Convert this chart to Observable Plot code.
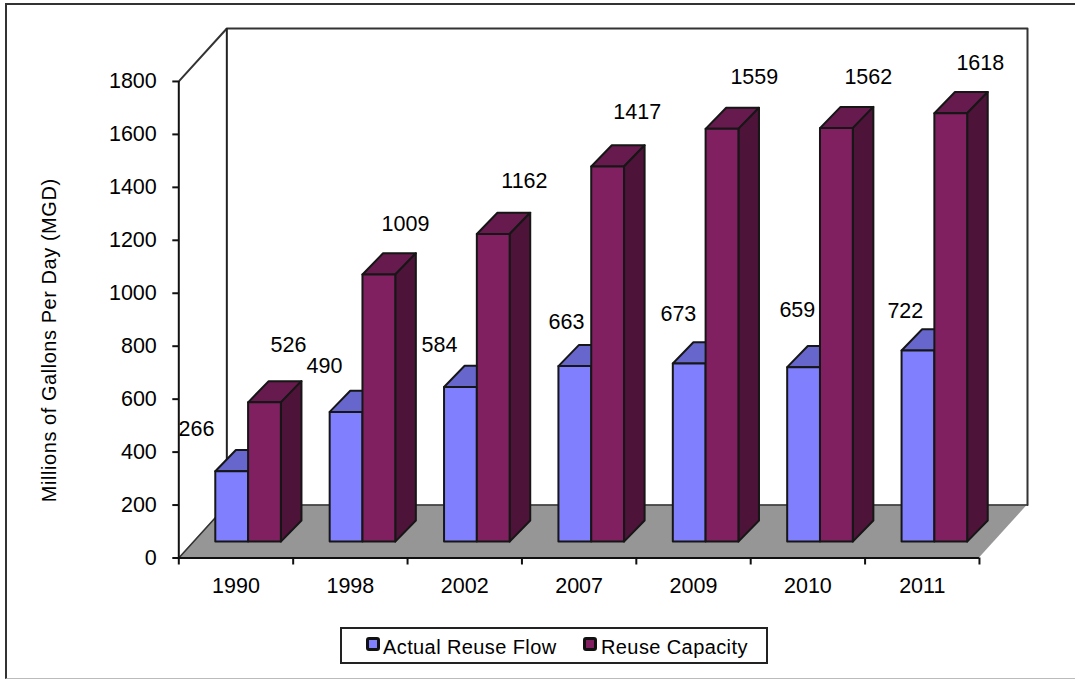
<!DOCTYPE html>
<html>
<head>
<meta charset="utf-8">
<script src="https://cdn.jsdelivr.net/npm/d3@7"></script>
<script src="https://cdn.jsdelivr.net/npm/@observablehq/plot@0.6"></script>
<style>
  html, body { margin: 0; padding: 0; background: #fff; }
  body { font-family: "Liberation Sans", Arial, sans-serif; color: #000; overflow: hidden; }
  #page { position: relative; width: 1075px; height: 679px; overflow: hidden; }
  #edge { position: absolute; left: 5px; top: 3px; width: 1090px; height: 673px;
          border: 2px solid #333; border-bottom: 1px solid #bbb; }
  #chart { position: absolute; left: 0; top: 0; }
  .spaced text { letter-spacing: 0.55px; }
  #legend { position: absolute; left: 340px; top: 627px; width: 424px; height: 33px;
            border: 2px solid #222; background: #fff; }
  #legend span { position: absolute; white-space: nowrap; }
  #legend .text { top: 7px; font-size: 20px; line-height: 22px; letter-spacing: 0.4px; }
  #legend .swatch { top: 8px; width: 8px; height: 8px; border: 3px solid #111; border-radius: 3px; }
</style>
</head>
<body>
<div id="page">
  <div id="edge"></div>
  <div id="chart"></div>
  <div id="legend"></div>
</div>
<script>
const years = ["1990", "1998", "2002", "2007", "2009", "2010", "2011"];
const actualFlow = [266, 490, 584, 663, 673, 659, 722];
const reuseCapacity = [526, 1009, 1162, 1417, 1559, 1562, 1618];
const yTicks = [0, 200, 400, 600, 800, 1000, 1200, 1400, 1600, 1800];

// Hand placement of the value labels: sideways in category widths, lift in MGD.
const flowShift = [-0.312, -0.193, -0.188, -0.078, -0.099, -0.059, -0.115];
const flowLift = [159, 173, 159, 167, 190, 216, 149];
const capacityShift = [0.205, 0.228, 0.268, 0.255, 0.278, 0.275, 0.254];
const capacityLift = [220, 191, 200, 209, 196, 193, 190];

const FLOW = { front: "#8080ff", top: "#6666cc" };
const CAP = { front: "#802060", top: "#661a4d", side: "#4d1339" };
const INK = "#161616";
const LABEL_SIZE = 21.5;

// Oblique projection: depth moves a point right (category units) and up (MGD).
const floorDx = 0.42, floorDy = 200;
const barDx = 0.18, barDy = 80, barLift = 60;
const barW = 0.2867, flowLeft = 0.3234;

const n = years.length;
const faces = (lefts, values, key) => {
  const fronts = [], tops = [], sides = [];
  values.forEach((v, i) => {
    const x0 = i + lefts, x1 = x0 + barW, y1 = v + barLift, id = key + i;
    fronts.push({ x1: x0, x2: x1, y1: barLift, y2: y1 });
    tops.push({ id, xa: x0, xb: x1, y: y1 }, { id, xa: x0 + barDx, xb: x1 + barDx, y: y1 + barDy });
    sides.push({ id, x: x1, ya: barLift, yb: y1 }, { id, x: x1 + barDx, ya: barLift + barDy, yb: y1 + barDy });
  });
  return { fronts, tops, sides };
};
const flowFaces = faces(flowLeft, actualFlow, "flow");
const capFaces = faces(flowLeft + barW, reuseCapacity, "cap");

const topFace = (rows, fill) => Plot.area(rows, {
  x1: "xa", x2: "xb", y1: "y", y2: "y", z: "id", fill, stroke: INK, strokeWidth: 2, strokeLinejoin: "round"
});
const sideFace = (rows, fill) => Plot.area(rows, {
  x1: "x", x2: "x", y1: "ya", y2: "yb", z: "id", fill, stroke: INK, strokeWidth: 2, strokeLinejoin: "round"
});
const frontFace = (rows, fill) => Plot.rect(rows, {
  x1: "x1", x2: "x2", y1: "y1", y2: "y2", fill, stroke: INK, strokeWidth: 2, strokeLinejoin: "round"
});

const floor = [
  { xa: 0, xb: n, y: 0 },
  { xa: floorDx, xb: n + floorDx, y: floorDy }
];
const wallEdge = [
  { x: 0, y: 1800 }, { x: floorDx, y: 2000 }, { x: n + floorDx, y: 2000 }, { x: n + floorDx, y: floorDy }
];
const floorEdge = [
  { x: 0, y: 0 }, { x: floorDx, y: floorDy }, { x: n + floorDx, y: floorDy }
];

const labels = [
  ...actualFlow.map((v, i) => ({ v, x: i + flowLeft + barW / 2 + flowShift[i], y: v + barLift + flowLift[i] })),
  ...reuseCapacity.map((v, i) => ({ v, x: i + flowLeft + barW * 1.5 + capacityShift[i], y: v + barLift + capacityLift[i] }))
];

const plot = Plot.plot({
  width: 1075,
  height: 620,
  marginLeft: 178.3,
  marginRight: 1075 - 1027,
  marginTop: 28,
  marginBottom: 62.5,
  x: { domain: [0, n + floorDx] },
  y: { domain: [0, 2000] },
  style: {
    fontFamily: "'Liberation Sans', Arial, sans-serif",
    fontSize: LABEL_SIZE + "px",
    background: "transparent",
    color: "#000"
  },
  marks: [
    Plot.area(floor, { x1: "xa", x2: "xb", y1: "y", y2: "y", fill: "#969696" }),
    Plot.line(floorEdge, { x: "x", y: "y", stroke: "#333", strokeWidth: 1.5 }),
    Plot.line(wallEdge, { x: "x", y: "y", stroke: "#333", strokeWidth: 2 }),
    Plot.ruleX([floorDx], { y1: floorDy, y2: 2000, stroke: "#222", strokeWidth: 2 }),
    Plot.ruleX([0], { y1: 0, y2: 1800, stroke: "#111", strokeWidth: 2 }),
    Plot.ruleY([0], { x1: 0, x2: n, stroke: "#111", strokeWidth: 2 }),
    Plot.axisY({
      ticks: yTicks, tickSize: 6, tickPadding: 16, strokeWidth: 2, stroke: "#111",
      tickFormat: d => String(d), label: null
    }),
    Plot.axisX({
      ticks: d3.range(0, n + 1), tickSize: 7, strokeWidth: 2, stroke: "#111",
      tickFormat: () => "", label: null
    }),
    Plot.axisX({
      ticks: d3.range(n).map(i => i + 0.5), tickSize: 0, tickPadding: 20,
      tickFormat: d => years[Math.floor(d)], label: null
    }),
    topFace(flowFaces.tops, FLOW.top),
    frontFace(flowFaces.fronts, FLOW.front),
    topFace(capFaces.tops, CAP.top),
    sideFace(capFaces.sides, CAP.side),
    frontFace(capFaces.fronts, CAP.front),
    Plot.text(labels, { x: "x", y: "y", text: d => String(d.v), fontSize: LABEL_SIZE, fill: "#000" }),
    Plot.text(["Millions of Gallons Per Day (MGD)"], {
      frameAnchor: "left", textAnchor: "middle", rotate: -90, dx: -129, dy: 47,
      fontSize: 20, fill: "#000", className: "spaced"
    })
  ]
});
document.getElementById("chart").appendChild(plot);

// Legend row below the plot area.
const legend = document.getElementById("legend");
[
  { name: "Actual Reuse Flow", fill: FLOW.front, swatch: 24, text: 41 },
  { name: "Reuse Capacity", fill: CAP.front, swatch: 241, text: 259 }
].forEach(d => {
  const box = document.createElement("span");
  box.className = "swatch";
  box.style.left = d.swatch + "px";
  box.style.background = d.fill;
  const label = document.createElement("span");
  label.className = "text";
  label.style.left = d.text + "px";
  label.textContent = d.name;
  legend.append(box, label);
});
</script>
</body>
</html>
